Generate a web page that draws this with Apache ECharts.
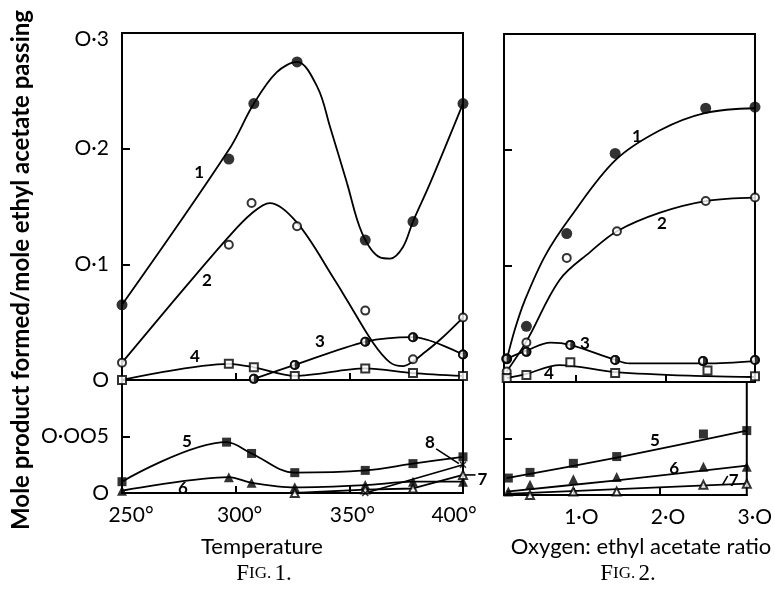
<!DOCTYPE html>
<html><head><meta charset="utf-8">
<script src="https://cdn.jsdelivr.net/npm/echarts@6/dist/echarts.min.js"></script>
<style>html,body{margin:0;padding:0;background:#fff}#c{width:775px;height:590px}</style>
</head><body><div id="c"></div>
<script>
// ---------- DATA ----------
// Fig. 1 : temperature (deg C) vs mole product / mole ethyl acetate
const fig1XTicks = [250, 300, 350, 400];
const fig2XTicks = [1, 2, 3];
const topYTicks = [0, 0.1, 0.2, 0.3];
const lowYTicks = [0, 0.005];

const f1_s1_pts = [[250,0.065],[297,0.191],[308,0.239],[327,0.275],[357,0.121],[378,0.137],[400,0.239]];
const f1_s1_curve = [[250,0.065],[297,0.199],[308,0.239],[318,0.266],[327,0.275],[336,0.253],[341.5,0.219],[349,0.170],[355.6,0.127],[363.5,0.106],[368,0.105],[373.6,0.115],[378,0.137],[385.5,0.170],[400,0.239]];
const f1_s2_pts = [[250,0.015],[297,0.117],[307,0.153],[327,0.133],[357,0.060],[378,0.018],[400,0.054]];
const f1_s2_curve = [[250,0.015],[273,0.069],[297,0.124],[307,0.144],[315,0.153],[327,0.136],[343.7,0.086],[349,0.069],[360.5,0.032],[368,0.015],[373.6,0.012],[378,0.016],[382,0.022],[390,0.035],[400,0.054]];
const f1_s3_pts = [[308,0.001],[326,0.013],[357,0.033],[378,0.037],[400,0.022]];
const f1_s4_pts = [[250,0],[297,0.014],[308,0.011],[326,0.0035],[357,0.010],[378,0.006],[400,0.0035]];
const f1_s5_pts = [[250,0.0010],[296,0.0045],[307,0.0035],[326,0.0018],[357,0.0020],[378,0.0026],[400,0.0032]];
const f1_s6_pts = [[250,0.0002],[297,0.0014],[307,0.0009],[326,0.0005],[357,0.0007],[378,0.0010],[400,0.0010]];
const f1_s7_pts = [[326,0],[357,0.0003],[378,0.0004],[400,0.0016]];
const f1_s8_pts = [[357,0],[400,0.0025]];

// Fig. 2 : oxygen : ethyl acetate ratio
const f2_s1_pts = [[0.23,0.020],[0.45,0.048],[0.90,0.128],[1.44,0.197],[2.45,0.236],[3.0,0.237]];
const f2_s1_curve = [[0.23,0.019],[0.32,0.045],[0.43,0.070],[0.66,0.109],[0.94,0.142],[1.44,0.191],[1.94,0.217],[2.45,0.232],[3.0,0.236]];
const f2_s2_pts = [[0.23,0.009],[0.45,0.034],[0.90,0.107],[1.46,0.130],[2.45,0.156],[3.0,0.159]];
const f2_s2_curve = [[0.23,0.009],[0.45,0.035],[0.82,0.088],[1.16,0.112],[1.46,0.130],[1.94,0.146],[2.45,0.156],[3.0,0.159]];
const f2_s3_pts = [[0.23,0.020],[0.45,0.026],[0.94,0.032],[1.44,0.019],[2.42,0.018],[3.0,0.019]];
const f2_s3_curve = [[0.23,0.020],[0.45,0.027],[0.72,0.034],[0.94,0.032],[1.44,0.019],[1.6,0.016],[2.45,0.016],[3.0,0.018]];
const f2_s4_pts = [[0.23,0.0034],[0.45,0.006],[0.94,0.017],[1.44,0.0077],[2.47,0.010],[3.0,0.005]];
const f2_s4_curve = [[0.23,0.0034],[0.45,0.007],[0.82,0.0146],[1.44,0.0086],[2.47,0.005],[3.0,0.0043]];
const f2_s5_pts = [[0.25,0.0015],[0.5,0.0020],[1.0,0.0028],[1.5,0.0034],[2.5,0.0054],[3.0,0.0057]];
const f2_s5_curve = [[0.23,0.0015],[1.5,0.0033],[3.0,0.0057]];
const f2_s6_pts = [[0.25,0.0003],[0.5,0.0009],[1.0,0.0014],[1.5,0.0016],[2.5,0.0025],[3.0,0.0025]];
const f2_s6_curve = [[0.23,0.0003],[1.5,0.0013],[3.0,0.0026]];
const f2_s7_pts = [[0.5,0],[1.0,0.0003],[1.5,0.0003],[2.5,0.0009],[3.0,0.0010]];
const f2_s7_curve = [[0.23,0.0001],[3.0,0.0010]];

const curveNames = ['1','2','3','4','5','6','7','8'];

// ---------- LAYOUT / STYLE ----------
const FONT = 'Lato, "DejaVu Sans", sans-serif';
const SERIF = '"Liberation Serif", "DejaVu Serif", serif';
const BLK = '#000';
const HALF = 'path://M10,0A10,10,0,1,1,10,20A10,10,0,1,1,10,0ZM10,3A7,7,0,1,0,10,17A7,7,0,1,0,10,3ZM10,0A10,10,0,0,1,10,20Z';
const CROSS = 'path://M0,1.5L1.5,0L5,3.5L8.5,0L10,1.5L6.5,5L10,8.5L8.5,10L5,6.5L1.5,10L0,8.5L3.5,5Z';

const chart = echarts.init(document.getElementById('c'));

const gridStyle = {show:true, borderColor:BLK, borderWidth:2, backgroundColor:'transparent'};
const grids = [
  Object.assign({left:122, top:33, width:341, height:347}, gridStyle),
  Object.assign({left:122, top:380, width:341, height:113}, gridStyle),
  Object.assign({left:504, top:34, width:251, height:348}, gridStyle),
  Object.assign({left:504, top:382, width:251, height:113}, gridStyle)
];

const zeroFmt = s => s.replace(/0/g, 'O');
const xShift = {250:18, 300:8, 350:6, 400:-18};
const xRich = {};
fig1XTicks.forEach(v => {
  const s = xShift[v];
  xRich['t'+v] = {fontSize:21, fontFamily:FONT, color:BLK, padding: s >= 0 ? [0,0,0,s] : [0,-s,0,0]};
});

function baseX(gi, min, max, extra) {
  return Object.assign({
    type:'value', gridIndex:gi, min:min, max:max,
    axisLine:{show:true, onZero:false, lineStyle:{color:BLK, width:2}},
    axisTick:{show:true, inside:true, length:7, lineStyle:{color:BLK, width:2}},
    axisLabel:{show:false}, splitLine:{show:false}
  }, extra || {});
}
function baseY(gi, max, interval, labelShow, fmt) {
  return {
    type:'value', gridIndex:gi, min:0, max:max, interval:interval,
    axisLine:{show:true, onZero:false, lineStyle:{color:BLK, width:2}},
    axisTick:{show:true, inside:true, length:8, lineStyle:{color:BLK, width:2}},
    axisLabel:{show:labelShow, margin:13, fontSize:21, fontFamily:FONT, color:BLK, formatter:fmt,
      rich:{top:{fontSize:21, fontFamily:FONT, color:BLK, padding:[12,0,0,0]}}},
    splitLine:{show:false}
  };
}
const topFmt = v => {
  if (v === 0) return 'O';
  const t = zeroFmt('0·' + Math.round(v*10));
  return Math.abs(v - 0.3) < 1e-9 ? '{top|' + t + '}' : t;
};
const lowFmt = v => {
  if (v === 0) return 'O';
  if (Math.abs(v - 0.005) < 1e-9) return zeroFmt('0·005');
  return '';
};

const xAxes = [
  baseX(0, 250, 400, {interval:50}),
  baseX(1, 250, 400, {interval:50, axisLabel:{show:true, margin:12, formatter: v => '{t'+v+'|'+v+'°}', rich:xRich}}),
  baseX(2, 0.2, 3.0, {axisTick:{show:true, inside:true, length:7, customValues:[1,2], lineStyle:{color:BLK, width:2}}}),
  baseX(3, 0.2, 3.0, {axisTick:{show:true, inside:true, length:7, customValues:[1,2], lineStyle:{color:BLK, width:2}},
    axisLabel:{show:true, margin:12, customValues:fig2XTicks, fontSize:21, fontFamily:FONT, color:BLK,
      formatter: v => '{p|' + zeroFmt(v.toFixed(1).replace('.', '·')) + '}',
      rich:{p:{fontSize:21, fontFamily:FONT, color:BLK, padding:[0,0,0,16]}}}})
];
const yAxes = [
  baseY(0, 0.3, 0.1, true, topFmt),
  baseY(1, 0.01, 0.005, true, lowFmt),
  baseY(2, 0.3, 0.1, false, topFmt),
  baseY(3, 0.01, 0.005, false, lowFmt)
];

const S = [];
function curve(gi, data, smooth) {
  S.push({type:'line', xAxisIndex:gi, yAxisIndex:gi, data:data, smooth:smooth, showSymbol:false, symbol:'none',
    lineStyle:{color:BLK, width:1.8}, z:2, silent:true, animation:false, clip:false});
}
function marks(gi, data, symbol, size, bw) {
  S.push({type:'scatter', xAxisIndex:gi, yAxisIndex:gi, data:data, symbol:symbol, symbolSize:size,
    itemStyle:{color:BLK, borderColor:BLK, borderWidth:bw}, z:4, silent:true, animation:false, clip:false});
}
function half(gi, data) {
  marks(gi, data, 'emptyCircle', 8, 1.5);
  S.push({type:'scatter', xAxisIndex:gi, yAxisIndex:gi, data:data, symbol:HALF, symbolSize:10,
    itemStyle:{color:BLK, borderWidth:0}, z:5, silent:true, animation:false, clip:false});
}

// Fig. 1
curve(0, f1_s1_curve, 0.35); marks(0, f1_s1_pts, 'circle', 11, 0);
curve(0, f1_s2_curve, 0.35); marks(0, f1_s2_pts, 'emptyCircle', 8, 1.5);
curve(0, f1_s3_pts, 0.3);   half(0, f1_s3_pts);
curve(0, f1_s4_pts, 0.3);   marks(0, f1_s4_pts, 'emptyRect', 8, 1.5);
curve(1, f1_s5_pts, 0.35);  marks(1, f1_s5_pts, 'rect', 9, 0);
curve(1, f1_s6_pts, 0.3);   marks(1, f1_s6_pts, 'triangle', 10, 0);
curve(1, f1_s7_pts, false); marks(1, f1_s7_pts, 'emptyTriangle', 8, 1.5);
curve(1, f1_s8_pts, false); marks(1, f1_s8_pts, CROSS, 7, 0);
// Fig. 2
curve(2, f2_s1_curve, 0.35); marks(2, f2_s1_pts, 'circle', 11, 0);
curve(2, f2_s2_curve, 0.35); marks(2, f2_s2_pts, 'emptyCircle', 8, 1.5);
curve(2, f2_s3_curve, 0.35); half(2, f2_s3_pts);
curve(2, f2_s4_curve, 0.35); marks(2, f2_s4_pts, 'emptyRect', 8, 1.5);
curve(3, f2_s5_curve, 0.2);  marks(3, f2_s5_pts, 'rect', 9, 0);
curve(3, f2_s6_curve, 0.2);  marks(3, f2_s6_pts, 'triangle', 10, 0);
curve(3, f2_s7_curve, false); marks(3, f2_s7_pts, 'emptyTriangle', 8, 1.5);

chart.setOption({
  animation:false, backgroundColor:'#fff',
  grid:grids, xAxis:xAxes, yAxis:yAxes, series:S
});

// ---------- ANNOTATIONS (curve numbers, placed in data space) ----------
const curveLabelPos = [
  {g:0, t:curveNames[0], at:[283.9,0.179]}, {g:0, t:curveNames[1], at:[287.4,0.086]},
  {g:0, t:curveNames[2], at:[337.1,0.033]}, {g:0, t:curveNames[3], at:[282.1,0.020]},
  {g:1, t:curveNames[4], at:[278.6,0.00455]}, {g:1, t:curveNames[5], at:[276.8,0.00036]},
  {g:1, t:curveNames[6], at:[408.6,0.00116]}, {g:1, t:curveNames[7], at:[385.5,0.00446]},
  {g:2, t:curveNames[0], at:[1.684,0.212]}, {g:2, t:curveNames[1], at:[1.963,0.137]},
  {g:2, t:curveNames[2], at:[1.104,0.0335]}, {g:2, t:curveNames[3], at:[0.702,0.0069]},
  {g:3, t:curveNames[4], at:[1.941,0.00482]}, {g:3, t:curveNames[5], at:[2.164,0.00237]},
  {g:3, t:curveNames[6], at:[2.85,0.0013]}
];
const leaderPos = [
  {g:1, a:[388.2,0.0039], b:[398.2,0.0026]},
  {g:1, a:[405.5,0.0016], b:[401.0,0.0016]},
  {g:3, a:[2.72,0.0009], b:[2.78,0.0017]}
];
const px = (g, p) => chart.convertToPixel({gridIndex:g}, p);
const gr = [];
curveLabelPos.forEach(l => {
  const p = px(l.g, l.at);
  gr.push({type:'text', x:p[0], y:p[1], z:20, silent:true,
    style:{text:l.t, fontSize:17, fontWeight:'bold', fontFamily:FONT, fill:BLK, align:'center', verticalAlign:'middle'}});
});
leaderPos.forEach(l => {
  const a = px(l.g, l.a), b = px(l.g, l.b);
  gr.push({type:'line', z:20, silent:true, shape:{x1:a[0], y1:a[1], x2:b[0], y2:b[1]}, style:{stroke:BLK, lineWidth:1.6}});
});
gr.push({type:'text', x:21, y:270, rotation:Math.PI/2, z:20, silent:true,
  style:{text:'Mole product formed/mole ethyl acetate passing', fontSize:24, fontWeight:'bold', fontFamily:FONT, fill:BLK, align:'center', verticalAlign:'middle'}});
gr.push({type:'text', x:262, y:547, z:20, silent:true,
  style:{text:'Temperature', fontSize:22, fontFamily:FONT, fill:BLK, align:'center', verticalAlign:'middle'}});
gr.push({type:'text', x:641, y:547, z:20, silent:true,
  style:{text:'Oxygen: ethyl acetate ratio', fontSize:22, fontFamily:FONT, fill:BLK, align:'center', verticalAlign:'middle'}});
const capRich = {a:{fontSize:23, fontFamily:SERIF, fill:BLK}, b:{fontSize:17, fontFamily:SERIF, fill:BLK}};
gr.push({type:'text', x:264, y:574, z:20, silent:true,
  style:{text:'{a|F}{b|IG.} {a|1.}', rich:capRich, align:'center', verticalAlign:'middle'}});
gr.push({type:'text', x:628, y:574, z:20, silent:true,
  style:{text:'{a|F}{b|IG.} {a|2.}', rich:capRich, align:'center', verticalAlign:'middle'}});
chart.setOption({graphic:gr});
</script></body></html>
